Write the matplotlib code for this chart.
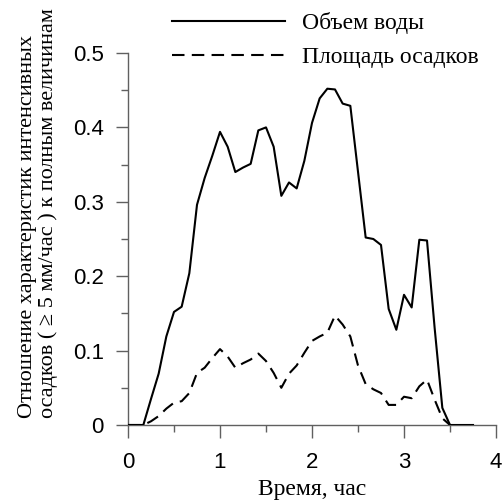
import numpy as np
import matplotlib
matplotlib.use("Agg")
import matplotlib.pyplot as plt
from matplotlib.ticker import MultipleLocator

# time in minutes from start, 5-minute steps
minutes_water = [0, 5, 10, 15, 20, 25, 30, 35, 40, 45, 50, 55, 60, 65, 70, 75,
                 80, 85, 90, 95, 100, 105, 110, 115, 120, 125, 130, 135, 140,
                 145, 155, 160, 165, 170, 175, 180, 185, 190, 195, 200, 205,
                 210, 215, 220, 225]
water_volume = [0, 0, 0, 0.035, 0.069, 0.119, 0.152, 0.159, 0.204, 0.296,
                0.332, 0.362, 0.394, 0.374, 0.340, 0.346, 0.351, 0.396, 0.400,
                0.374, 0.308, 0.326, 0.318, 0.355, 0.406, 0.439, 0.452, 0.451,
                0.432, 0.429, 0.252, 0.250, 0.242, 0.156, 0.128, 0.175, 0.158,
                0.249, 0.248, 0.130, 0.023, 0, 0, 0, 0]

minutes_area = [0, 5, 10, 15, 20, 25, 30, 35, 40, 45, 50, 55, 60, 65, 70, 75,
                80, 85, 90, 95, 100, 105, 110, 115, 120, 125, 130, 135, 140,
                145, 150, 155, 160, 165, 170, 175, 180, 185, 190, 195, 200,
                205, 210]
rain_area = [0, 0, 0, 0.005, 0.012, 0.022, 0.030, 0.032, 0.043, 0.070, 0.077,
             0.090, 0.102, 0.092, 0.077, 0.083, 0.088, 0.096, 0.086, 0.070,
             0.050, 0.069, 0.080, 0.097, 0.113, 0.119, 0.124, 0.147, 0.135,
             0.119, 0.080, 0.055, 0.048, 0.043, 0.027, 0.027, 0.038, 0.036,
             0.052, 0.061, 0.034, 0.009, 0]

ytick_vals = [0, 0.1, 0.2, 0.3, 0.4, 0.5]
ytick_labels = ["0", "0.1", "0.2", "0.3", "0.4", "0.5"]

label_water = "Объем воды"
label_area = "Площадь осадков"
xlabel = "Время, час"
ylabel = "Отношение характеристик интенсивных\nосадков ( ≥ 5 мм/час ) к полным величинам"

serif = ["Liberation Serif", "DejaVu Serif"]
plt.rcParams["font.family"] = ["Liberation Sans", "DejaVu Sans"]
axis_grey = "#606060"

fig = plt.figure(figsize=(5.03, 5.03), dpi=100)
ax = fig.add_axes([128 / 503, 78 / 503, 368 / 503, 372 / 503])

t_w = np.array(minutes_water) / 60.0
t_a = np.array(minutes_area) / 60.0
ax.plot(t_w, water_volume, color="black", lw=1.5, label=label_water)
ax.plot(t_a, rain_area, color="black", lw=1.5, dashes=(6, 3.5), label=label_area)

ax.set_xlim(0, 4)
ax.set_ylim(0, 0.5)
ax.xaxis.set_major_locator(MultipleLocator(1))
ax.xaxis.set_minor_locator(MultipleLocator(0.5))
ax.set_yticks(ytick_vals)
ax.set_yticklabels(ytick_labels)
ax.yaxis.set_minor_locator(MultipleLocator(0.05))
for s in ["top", "right"]:
    ax.spines[s].set_visible(False)
for s in ["left", "bottom"]:
    ax.spines[s].set_color(axis_grey)
    ax.spines[s].set_linewidth(1.0)
    ax.spines[s].set_zorder(0)
ax.tick_params(which="major", length=9, width=1, color=axis_grey,
               labelsize=16, pad=8.5)
ax.tick_params(axis="x", which="major", pad=10.5)
ax.tick_params(which="minor", length=5, width=1, color=axis_grey)

ax.set_xlabel(xlabel, fontsize=17, family=serif, labelpad=4)
ax.set_ylabel(ylabel, fontsize=16, family=serif, multialignment="left",
              linespacing=1.1)
ax.yaxis.label.set_horizontalalignment("left")
ax.yaxis.label.set_verticalalignment("center")
ax.yaxis.set_label_coords(-0.245, 0.02)

leg = fig.legend(loc="upper left", bbox_to_anchor=(172 / 503, 1 - 12 / 503),
                 frameon=False, borderpad=0, borderaxespad=0,
                 handlelength=4.8, handletextpad=0.72, labelspacing=0.52,
                 prop={"family": serif, "size": 17})

fig.savefig("out.png", dpi=100)
